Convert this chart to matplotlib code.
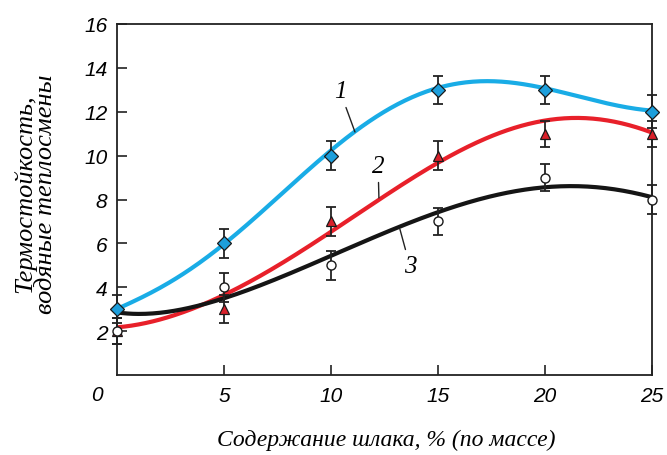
import numpy as np
import matplotlib.pyplot as plt

# measured points (slag content, %) with error bars
x_pts = [0, 5, 10, 15, 20, 25]
s1 = [3, 6, 10, 13, 13, 12]
s2 = [2, 3, 7, 10, 11, 11]
s3 = [2, 4, 5, 7, 9, 8]
e1 = [0.65, 0.65, 0.65, 0.65, 0.65, 0.75]
e2 = [0.6, 0.65, 0.65, 0.65, 0.6, 0.6]
e3 = [0.6, 0.65, 0.65, 0.6, 0.6, 0.65]

# smooth curves
x_fit = [0, 1.5, 3, 5, 7, 8.5, 10, 11, 12.25, 13.75, 15, 17, 18.5, 20, 21.5, 23.25, 25]
fit1 = [3.04, 3.62, 4.6, 6.0, 7.7, 8.93, 10.07, 11.0, 12.03, 12.7, 13.03, 13.34, 13.34, 13.05, 12.75, 12.3, 12.05]
fit2 = [2.17, 2.4, 2.87, 3.62, 4.65, 5.6, 6.55, 7.2, 8.04, 8.9, 9.62, 10.68, 11.29, 11.6, 11.72, 11.52, 11.06]
fit3 = [2.86, 2.78, 3.0, 3.5, 4.18, 4.83, 5.45, 5.85, 6.33, 6.95, 7.49, 8.02, 8.35, 8.55, 8.6, 8.48, 8.1]

xticks = [5, 10, 15, 20, 25]
yticks = [2, 4, 6, 8, 10, 12, 14, 16]

c_blue = '#19ace6'
c_red = '#e8202a'
c_black = '#151515'

tick_font = dict(family='Liberation Sans', style='italic', size=15)
serif = dict(family='Liberation Serif', style='italic')

fig = plt.figure(figsize=(6.67, 4.56), dpi=100)
ax = fig.add_axes([0.1754, 0.1754, 0.8021, 0.7698])

# smooth the read curves for drawing
xs = np.linspace(0, 25, 300)
for yv, col in [(fit1, c_blue), (fit2, c_red), (fit3, c_black)]:
    p = np.polyfit(x_fit, yv, 6)
    ax.plot(xs, np.polyval(p, xs), color=col, lw=3.0, zorder=2)

for y, e in [(s1, e1), (s2, e2), (s3, e3)]:
    ax.errorbar(x_pts, y, yerr=e, fmt='none', ecolor='#222222', elinewidth=1.3,
                capsize=3.5, capthick=1.3, zorder=3, clip_on=False)

ax.plot(x_pts, s1, 'D', ms=7.5, mfc='#1d9fdc', mec='#1a1a1a', mew=0.9, zorder=4, clip_on=False)
ax.plot(x_pts, s2, '^', ms=7.5, mfc='#d9202a', mec='#1a1a1a', mew=0.9, zorder=4, clip_on=False)
ax.plot(x_pts, s3, 'o', ms=6.5, mfc='white', mec='#1a1a1a', mew=1.0, zorder=4, clip_on=False)

ax.set_xlim(0, 25)
ax.set_ylim(0, 16)
ax.set_xticks(xticks)
ax.set_yticks(yticks)
ax.set_xticklabels([str(t) for t in xticks], fontdict=tick_font)
ax.set_yticklabels([str(t) for t in yticks], fontdict=tick_font)
ax.tick_params(direction='in', length=7.5, width=1.2, color='#222222')
ax.tick_params(axis='x', pad=8)
ax.tick_params(axis='y', pad=7)
for sp in ax.spines.values():
    sp.set_linewidth(1.3)
    sp.set_color('#222222')

ax.annotate('0', xy=(0, 0), xytext=(-20, -19), textcoords='offset pixels',
            ha='center', va='center', **tick_font)

# curve numbers with leader lines
for lab, xy, xyt in [('1', (11.12, 11.08), (10.42, 12.94)),
                     ('2', (12.24, 8.07), (12.2, 9.53)),
                     ('3', (13.22, 6.65), (13.69, 4.97))]:
    ax.annotate(lab, xy=xy, xytext=xyt, ha='center', va='center', size=18, **serif,
                arrowprops=dict(arrowstyle='-', lw=1.0, color='#222222', shrinkA=2, shrinkB=0))

fig.text(386 / 667, 1 - 440 / 456, 'Содержание шлака, % (по массе)',
         ha='center', va='center', size=17, **serif)
fig.text(35 / 667, 1 - 194 / 456, 'Термостойкость,\nводяные теплосмены',
         ha='center', va='center', rotation=90, size=19, linespacing=0.95,
         multialignment='center', **serif)

fig.savefig('out.png', dpi=100)
